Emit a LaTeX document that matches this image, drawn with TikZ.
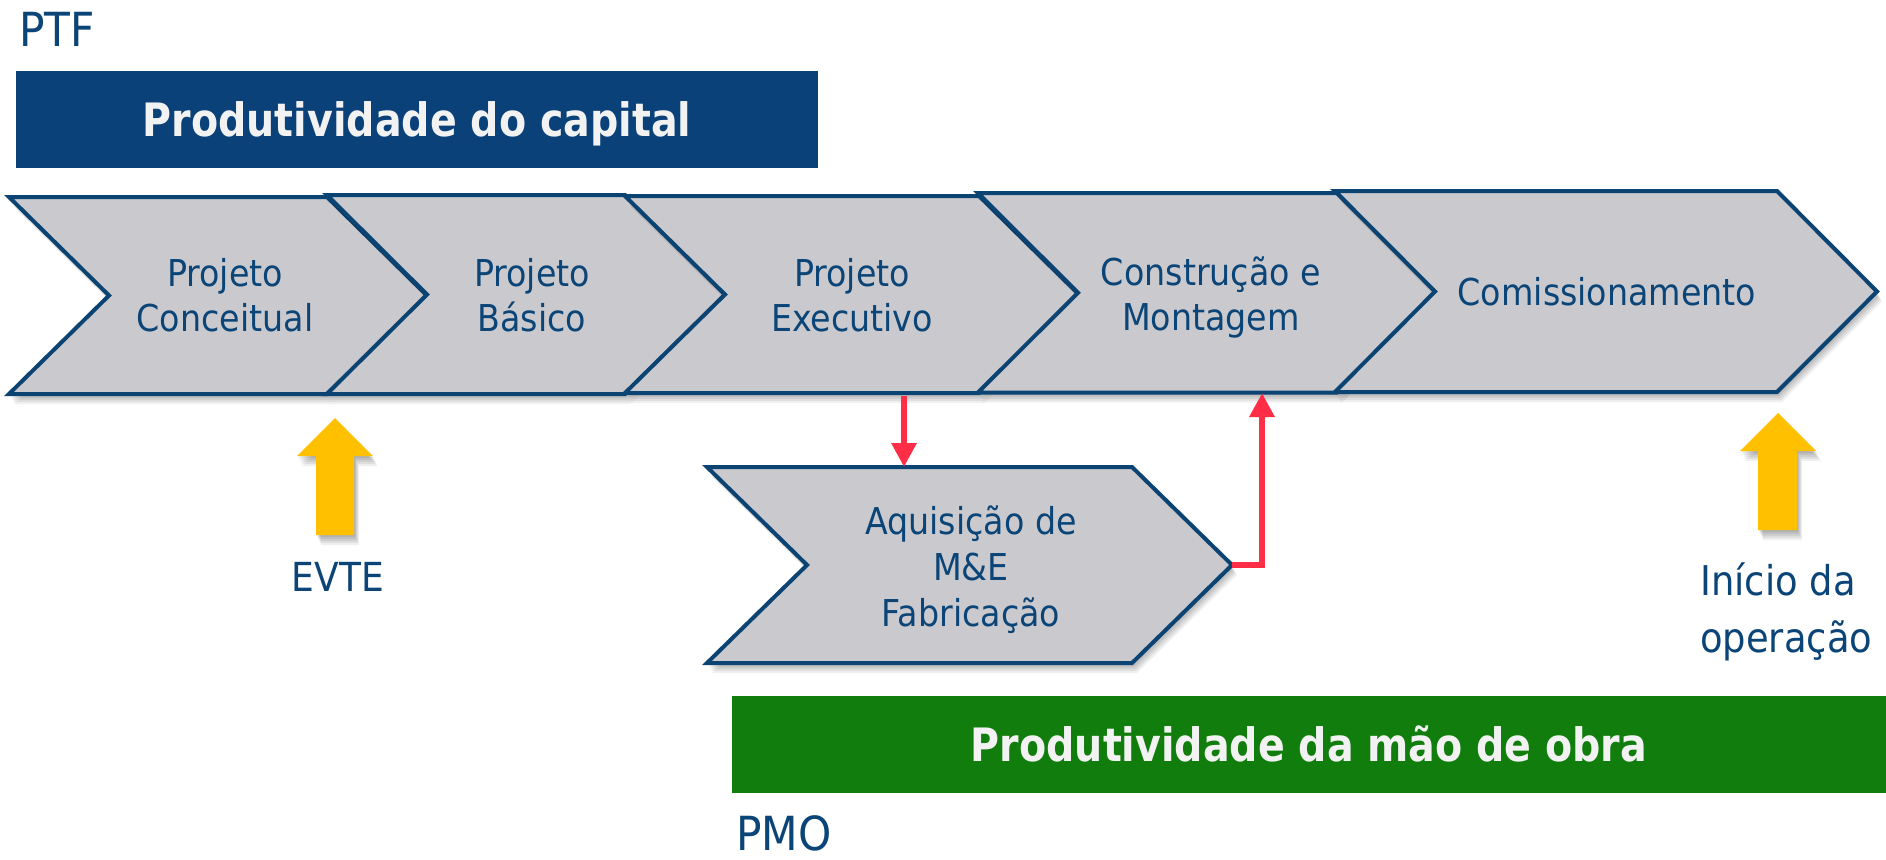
\documentclass[tikz,border=0pt]{standalone}
\usepackage{fontspec}
\setmainfont[FakeStretch=0.9]{DejaVu Sans}
\newfontfamily\barfont[FakeStretch=0.86]{DejaVu Sans}
\usetikzlibrary{arrows.meta}

\definecolor{navy}{HTML}{0B4179}
\definecolor{txtblue}{HTML}{0B4477}
\definecolor{edgeblue}{HTML}{0B4373}
\definecolor{chevgray}{HTML}{CACACE}
\definecolor{grn}{HTML}{117D0D}
\definecolor{ylw}{HTML}{FFC000}
\definecolor{redarr}{HTML}{FF2D46}
\definecolor{offwhite}{HTML}{F2F2F2}

\tikzset{
  softshadow/.style={
    preaction={fill=black, opacity=0.07, transform canvas={shift={(1pt,-2pt)}}},
    preaction={fill=black, opacity=0.07, transform canvas={shift={(2pt,-4pt)}}},
    preaction={fill=black, opacity=0.07, transform canvas={shift={(3pt,-6pt)}}},
    preaction={fill=black, opacity=0.07, transform canvas={shift={(4pt,-8pt)}}},
    preaction={fill=black, opacity=0.06, transform canvas={shift={(5pt,-10pt)}}}},
  chevron/.style={softshadow, fill=chevgray, draw=edgeblue, line width=4pt, line join=miter},
  chevtext/.style={text=txtblue, font=\fontsize{37}{45}\selectfont, align=center, inner sep=0pt},
  plainlabel/.style={text=txtblue, inner sep=0pt},
  barbox/.style={text=offwhite, inner sep=0pt, minimum height=97pt,
    font={\barfont\fontsize{46}{55}\selectfont\bfseries}, text height=33.5pt, text depth=0pt},
  redarrow/.style={draw=redarr, line width=6pt, -{Triangle[length=24pt,width=24pt]}},
  yarrow/.style={softshadow, fill=ylw}
}

\newcommand\mychev[5]{%
  \draw[chevron] (#2,#4) coordinate (#1-tl) -- (#3,#4) coordinate (#1-tr)
    -- ({#3+100},{(#4+#5)/2}) coordinate (#1-tip) -- (#3,#5) coordinate (#1-br)
    -- (#2,#5) coordinate (#1-bl) -- ({#2+100},{(#4+#5)/2}) coordinate (#1-notch) -- cycle;}

\begin{document}
\begin{tikzpicture}[x=1pt,y=-1pt]
\useasboundingbox (0,0) rectangle (1886,859);
\fill[white] (0,0) rectangle (1886,859);

% labels PTF / PMO
\node[plainlabel, anchor=base west, font=\fontsize{47}{56}\selectfont] (ptf) at (19,47) {PTF};
\node[plainlabel, anchor=base west, font=\fontsize{47}{56}\selectfont] (pmo) at (736,850) {PMO};

% bars
\node[barbox, fill=navy, minimum width=802pt] (capital) at (417,119.5) {Produtividade do capital};
\node[barbox, fill=grn, minimum width=1154pt] (maoobra) at (1309,744.5) {Produtividade da mão de obra};

% chevrons row
\mychev{c1}{9}{327}{197}{394}
\mychev{c2}{327}{625}{195}{394}
\mychev{c3}{625}{979}{196}{393}
\mychev{c4}{978}{1337}{193}{392.5}
\mychev{c5}{1335}{1777}{191}{392}
% lower chevron
\mychev{c6}{707}{1132}{467}{663}

\node[chevtext] (t1) at (225,295.5) {Projeto\\Conceitual};
\node[chevtext] (t2) at (532,295.5) {Projeto\\Básico};
\node[chevtext] (t3) at (852,295.5) {Projeto\\Executivo};
\node[chevtext] (t4) at (1211,297) {Construção e\\Montagem};
\node[chevtext] (t5) at (1607,292) {Comissionamento};
\node[chevtext, font=\fontsize{37}{46}\selectfont] (t6) at (971,569.5) {Aquisição de\\M\&E\\Fabricação};

% red connectors
\coordinate (c3out) at (904,396);
\coordinate (c6in) at (904,467);
\coordinate (c4in) at (1262,393);
\draw[redarrow] (c3out) -- (c6in);
\draw[redarrow] (c6-tip) -| (c4in);

% yellow milestone arrows
\fill[yarrow] (335,418) coordinate (evtetip) -- (373,456) -- (354,456) -- (354,535) -- (316,535) -- (316,456) -- (297,456) -- cycle;
\fill[yarrow] (1778,413) coordinate (optip) -- (1816,451) -- (1797,451) -- (1797,530) -- (1758,530) -- (1758,451) -- (1740,451) -- cycle;

\node[plainlabel, font=\fontsize{40}{48}\selectfont, text height=29.2pt, text depth=0pt] (evte) at (338,576.4) {EVTE};
\node[plainlabel, anchor=west, align=left, font=\fontsize{41}{57}\selectfont] (inicio) at (1700,612) {Início da\\operação};
\end{tikzpicture}
\end{document}
